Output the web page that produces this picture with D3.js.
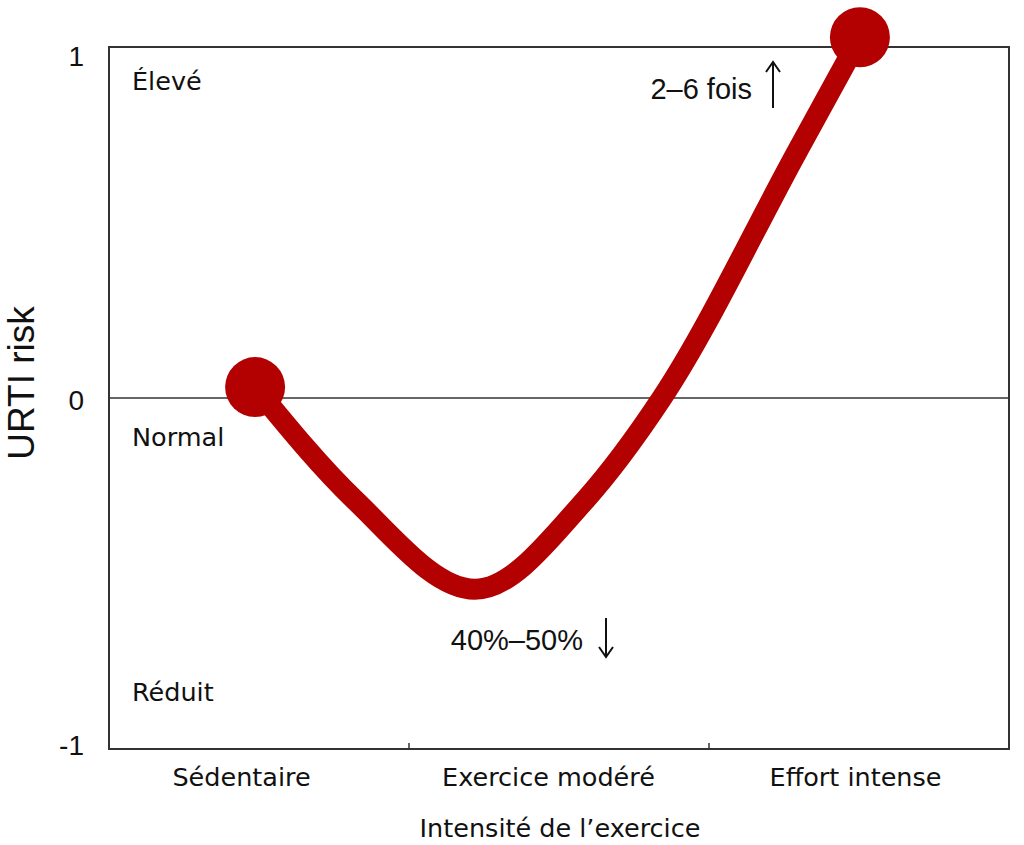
<!DOCTYPE html>
<html>
<head>
<meta charset="utf-8">
<script src="https://cdn.jsdelivr.net/npm/d3@7"></script>
<style>
  html, body { margin: 0; padding: 0; background: #fff; }
  svg { display: block; }
</style>
</head>
<body>
<svg id="chart" width="1024" height="845"></svg>
<script>
// ---- data ----
const categories = ["Sédentaire", "Exercice modéré", "Effort intense"];
const intensity = [0.487, 0.82, 1.22, 1.587, 1.843, 2.297, 2.503];
const risk      = [0.031, -0.291, -0.545, -0.291, 0.0, 0.707, 1.028];
const yTicks = [-1, 0, 1];
const levelLabels = [
  { text: "Élevé", value: 0.877 },
  { text: "Normal", value: -0.137 },
  { text: "Réduit", value: -0.863 }
];
const yTitle = "URTI risk";
const xTitle = "Intensité de l’exercice";

// ---- layout ----
const svg = d3.select("#chart");
const plotL = 109, plotR = 1009, plotT = 47, plotB = 749;
const red = "#b30000";
const axisColor = "#333";
const frenchFont = "'DejaVu Sans', sans-serif";
const numFont = "'Liberation Sans', Arial, sans-serif";

const x = d3.scaleLinear().domain([0, 3]).range([plotL, plotR]);
const y = d3.scaleLinear().domain([-1, 1]).range([plotB, plotT]);
const xBand = d3.scaleBand().domain(categories).range([88, 1009]);

// frame
svg.append("rect")
  .attr("x", plotL).attr("y", plotT)
  .attr("width", plotR - plotL).attr("height", plotB - plotT)
  .attr("fill", "none").attr("stroke", axisColor).attr("stroke-width", 2);

// zero line
svg.append("line")
  .attr("x1", plotL).attr("x2", plotR)
  .attr("y1", y(0)).attr("y2", y(0))
  .attr("stroke", axisColor).attr("stroke-width", 1.6);

// bottom ticks between categories
svg.selectAll(".xtick").data([1, 2]).enter().append("line")
  .attr("x1", d => x(d)).attr("x2", d => x(d))
  .attr("y1", plotB).attr("y2", plotB - 6)
  .attr("stroke", axisColor).attr("stroke-width", 1.5);

// y tick labels
svg.selectAll(".ytick").data(yTicks).enter().append("text")
  .attr("x", 84)
  .attr("y", d => y(d) + 12 + 6.5 * d)
  .attr("text-anchor", "end")
  .attr("font-family", numFont)
  .attr("font-size", 28)
  .attr("fill", "#111")
  .text(d => d);

// y title
svg.append("text")
  .attr("transform", `translate(34, ${y(0) - 15}) rotate(-90)`)
  .attr("text-anchor", "middle")
  .attr("font-family", numFont)
  .attr("font-size", 37)
  .attr("fill", "#111")
  .text(yTitle);

// level labels
svg.selectAll(".level").data(levelLabels).enter().append("text")
  .attr("x", 132)
  .attr("y", d => y(d.value))
  .attr("font-family", frenchFont)
  .attr("font-size", 25.5)
  .attr("fill", "#111")
  .text(d => d.text);

// category labels
svg.selectAll(".cat").data(categories).enter().append("text")
  .attr("x", d => xBand(d) + xBand.bandwidth() / 2)
  .attr("y", 786)
  .attr("text-anchor", "middle")
  .attr("font-family", frenchFont)
  .attr("font-size", 25.5)
  .attr("fill", "#111")
  .text(d => d);

// x title
svg.append("text")
  .attr("x", 560).attr("y", 837)
  .attr("text-anchor", "middle")
  .attr("font-family", frenchFont)
  .attr("font-size", 25.5)
  .attr("fill", "#111")
  .text(xTitle);

// curve
const pts = intensity.map((v, i) => [v, risk[i]]);
const line = d3.line()
  .x(d => x(d[0])).y(d => y(d[1]))
  .curve(d3.curveMonotoneX);
svg.append("path")
  .datum(pts)
  .attr("d", line)
  .attr("fill", "none")
  .attr("stroke", red)
  .attr("stroke-width", 21)
  .attr("stroke-linecap", "round")
  .attr("stroke-linejoin", "round");

// end dots
svg.selectAll(".dot").data([pts[0], pts[pts.length - 1]]).enter().append("circle")
  .attr("cx", d => x(d[0])).attr("cy", d => y(d[1]))
  .attr("r", 30)
  .attr("fill", red);

// annotations
function arrow(xp, y1, y2) {
  const dir = y2 < y1 ? 1 : -1; // head at y2
  svg.append("line").attr("x1", xp).attr("x2", xp).attr("y1", y1).attr("y2", y2)
    .attr("stroke", "#111").attr("stroke-width", 2);
  svg.append("path")
    .attr("d", `M${xp - 7},${y2 + dir * 10} L${xp},${y2} L${xp + 7},${y2 + dir * 10}`)
    .attr("fill", "none").attr("stroke", "#111").attr("stroke-width", 2);
}
svg.append("text")
  .attr("x", 752).attr("y", 99)
  .attr("text-anchor", "end")
  .attr("font-family", numFont)
  .attr("font-size", 29)
  .attr("fill", "#111")
  .text("2–6 fois");
arrow(773, 108, 62);

svg.append("text")
  .attr("x", 583).attr("y", 650)
  .attr("text-anchor", "end")
  .attr("font-family", numFont)
  .attr("font-size", 29)
  .attr("fill", "#111")
  .text("40%–50%");
arrow(606, 618, 657);
</script>
</body>
</html>
